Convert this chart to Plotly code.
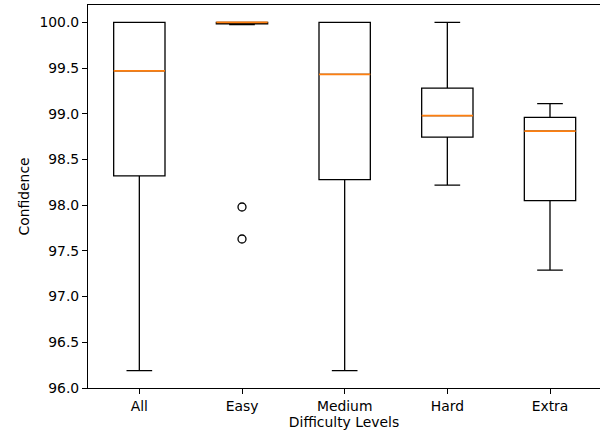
import plotly.graph_objects as go

categories = ["All", "Easy", "Medium", "Hard", "Extra"]
positions = [1, 2, 3, 4, 5]
lower_whisker = [96.19, 99.975, 96.19, 98.22, 97.29]
q1_vals = [98.32, 99.985, 98.28, 98.745, 98.05]
median_vals = [99.47, 100.0, 99.43, 98.98, 98.81]
q3_vals = [100.0, 100.0, 100.0, 99.28, 98.96]
upper_whisker = [100.0, 100.0, 100.0, 100.0, 99.11]
outlier_x = [2, 2]
outlier_y = [97.98, 97.63]

box_width = 0.5
LW = 1.3

fig = go.Figure()
for i, cat in enumerate(categories):
    fig.add_trace(go.Box(
        x=[positions[i]], q1=[q1_vals[i]], median=[median_vals[i]], q3=[q3_vals[i]],
        lowerfence=[lower_whisker[i]], upperfence=[upper_whisker[i]],
        width=box_width, whiskerwidth=0.5,
        line=dict(color="black", width=LW), fillcolor="rgba(255,255,255,0)",
        boxpoints=False, showlegend=False, hoverinfo="skip", name=cat,
    ))
    fig.add_trace(go.Scatter(
        x=[positions[i] - box_width / 2, positions[i] + box_width / 2],
        y=[median_vals[i], median_vals[i]], mode="lines",
        line=dict(color="#ff7f0e", width=1.7), showlegend=False, hoverinfo="skip",
    ))

fig.add_trace(go.Scatter(
    x=outlier_x, y=outlier_y, mode="markers",
    marker=dict(symbol="circle-open", size=8, color="black", line=dict(width=1.3)),
    showlegend=False, hoverinfo="skip",
))

font = dict(family="DejaVu Sans", size=13.9, color="black")
fig.update_layout(
    width=600, height=436,
    margin=dict(l=88, r=0, t=5, b=48),
    paper_bgcolor="white", plot_bgcolor="white",
    font=font, showlegend=False,
    xaxis=dict(
        range=[0.5, 5.487], tickmode="array", tickvals=positions, ticktext=categories,
        showline=True, linecolor="black", linewidth=1.1, mirror=True,
        ticks="outside", ticklen=5, tickwidth=1.1, tickcolor="black",
        showgrid=False, zeroline=False, tickfont=font,
        title=dict(text="Difficulty Levels", font=font, standoff=3),
    ),
    yaxis=dict(
        range=[96.0, 100.19], tickmode="array",
        tickvals=[96.0, 96.5, 97.0, 97.5, 98.0, 98.5, 99.0, 99.5, 100.0],
        ticktext=["96.0", "96.5", "97.0", "97.5", "98.0", "98.5", "99.0", "99.5", "100.0"],
        showline=True, linecolor="black", linewidth=1.1, mirror=True,
        ticks="outside", ticklen=5, tickwidth=1.1, tickcolor="black",
        showgrid=False, zeroline=False, tickfont=font,
        title=dict(text="Confidence", font=font, standoff=6),
    ),
)

fig.write_html(
    "out.html",
    config={"displayModeBar": False},
    post_script="document.body.style.margin='0';document.body.style.overflow='hidden';",
)
